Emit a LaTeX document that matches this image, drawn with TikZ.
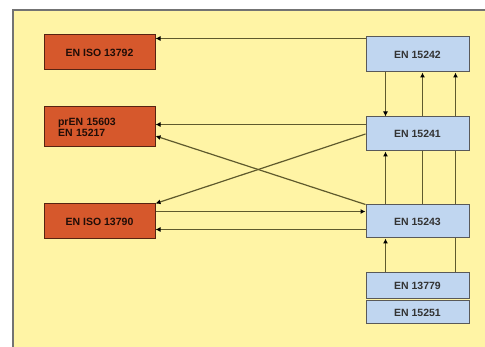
\documentclass[tikz,border=0pt]{standalone}
\usepackage{fontspec}
\setmainfont{Liberation Sans}
\usetikzlibrary{arrows.meta,calc,backgrounds}
\definecolor{panelyellow}{RGB}{255,244,165}
\definecolor{stdorange}{RGB}{214,88,44}
\definecolor{stdblue}{RGB}{192,214,240}
\definecolor{linkolive}{RGB}{95,90,45}
\tikzset{
  orangebox/.style={draw=black!60!stdorange, fill=stdorange, line width=1pt, minimum width=111pt, inner sep=0pt, font=\fontsize{10.5}{11}\selectfont\bfseries, text=black!85!stdorange},
  bluebox/.style={draw=black!65, fill=stdblue, line width=1pt, minimum width=103pt, inner sep=0pt, font=\fontsize{10.5}{11}\selectfont\bfseries, text=black!80},
  link/.style={draw=linkolive, line width=1.2pt, -{Latex[length=5pt,width=5pt,color=black]}}
}
\begin{document}
\begin{tikzpicture}[x=1pt, y=-1pt]
  \useasboundingbox (0,0) rectangle (485,347);

  % Standards on the left
  \node[orangebox, minimum height=35pt] (iso13792) at (99.5,52.5) {EN ISO 13792};
  \node[orangebox, minimum height=40pt, align=left, text width=83pt] (pren15603) at (99.5,127) {prEN 15603\\EN 15217};
  \node[orangebox, minimum height=35pt] (iso13790) at (99.5,221.5) {EN ISO 13790};

  % Standards on the right
  \node[bluebox, minimum height=35pt] (en15242) at (417.5,54.5) {EN 15242};
  \node[bluebox, minimum height=34pt] (en15241) at (417.5,134) {EN 15241};
  \node[bluebox, minimum height=33pt] (en15243) at (417.5,221.5) {EN 15243};
  \node[bluebox, minimum height=26pt] (en13779) at (417.5,286) {EN 13779};
  \node[bluebox, minimum height=23pt] (en15251) at (417.5,312.5) {EN 15251};

  % Start points of the links
  \coordinate (top42) at ($(en15242.north west)+(0,2)$);
  \coordinate (left41) at ($(en15241.north west)+(0,8)$);
  \coordinate (out90) at ($(iso13790.north east)+(0,8)$);
  \coordinate (left43) at ($(en15243.north west)+(0,25)$);

  \begin{scope}[on background layer]
    % Panel
    \fill[white] (0,0) rectangle (485,347);
    \draw[fill=panelyellow, draw=black!55, line width=1.6pt] (13,10) rectangle (495,360);

    % Links to the left column
    \draw[link] (top42) -- (top42 -| iso13792.east);
    \draw[link] (left41) -- (left41 -| pren15603.east);
    \draw[link] (en15243.north west) -- ($(pren15603.east)+(0,9)$);
    \draw[link] (en15241.west) -- (iso13790.north east);
    \draw[link] (out90) -- (out90 -| en15243.west);
    \draw[link] (left43) -- (left43 -| iso13790.east);

    % Vertical links
    \draw[link] ($(en15242.south west)+(20,0)$) -- ($(en15241.north west)+(20,0)$);
    \draw[link] ($(en15243.north west)+(20,0)$) -- ($(en15241.south west)+(20,0)$);
    \draw[link] ($(en13779.north west)+(20,0)$) -- ($(en15243.south west)+(20,0)$);
    \draw[link] ($(en15243.north west)+(57,0)$) -- ($(en15242.south west)+(57,0)$);
    \draw[link] ($(en13779.north west)+(90,0)$) -- ($(en15242.south west)+(90,0)$);
  \end{scope}
\end{tikzpicture}
\end{document}
